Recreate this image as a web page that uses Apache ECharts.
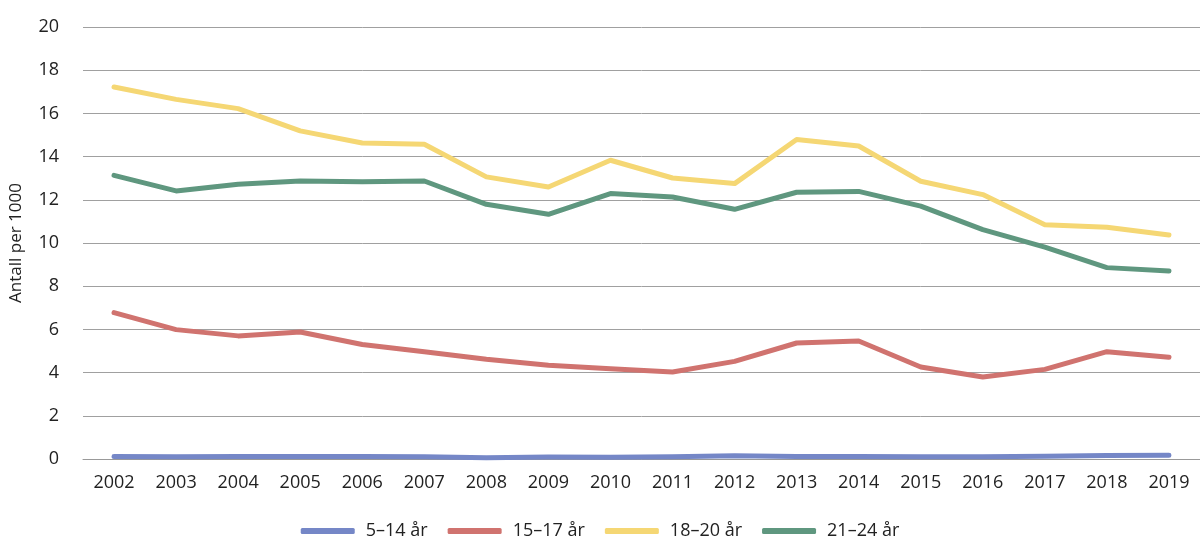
<!DOCTYPE html>
<html>
<head>
<meta charset="utf-8">
<script src="https://cdn.jsdelivr.net/npm/echarts@6/dist/echarts.min.js"></script>
<style>
html,body{margin:0;padding:0;background:#fff;}
#c{width:1200px;height:558px;}
</style>
</head>
<body>
<div id="c"></div>
<script>
const years = ['2002','2003','2004','2005','2006','2007','2008','2009','2010','2011','2012','2013','2014','2015','2016','2017','2018','2019'];
const s5_14  = [0.12,0.10,0.11,0.12,0.11,0.10,0.06,0.09,0.08,0.10,0.15,0.11,0.12,0.10,0.10,0.13,0.16,0.17];
const s15_17 = [6.78,5.99,5.70,5.88,5.30,4.97,4.62,4.34,4.18,4.03,4.52,5.37,5.46,4.26,3.80,4.15,4.97,4.71];
const s18_20 = [17.22,16.65,16.22,15.19,14.63,14.57,13.06,12.59,13.83,13.01,12.75,14.79,14.49,12.86,12.24,10.85,10.73,10.37];
const s21_24 = [13.13,12.41,12.72,12.87,12.84,12.87,11.79,11.33,12.29,12.13,11.56,12.35,12.39,11.71,10.62,9.81,8.86,8.70];
const names = ['5–14 år','15–17 år','18–20 år','21–24 år'];
const colors = ['#7587c7','#d0736f','#f5d774','#5f977f'];
const yTicks = {min:0, max:20, interval:2};

const font = '"Open Sans", "DejaVu Sans", sans-serif';
const chart = echarts.init(document.getElementById('c'));
const mk = (name, data, color) => ({
  name, type:'line', data, symbol:'none', smooth:false,
  lineStyle:{color, width:5, cap:'round', join:'round'},
  itemStyle:{color}
});
chart.setOption({
  animation:false,
  textStyle:{fontFamily:font},
  grid:{left:75, right:0, top:27, bottom:99, containLabel:false},
  legend:{
    bottom:13, left:'center', itemWidth:54, itemHeight:6, itemGap:20,
    icon:'roundRect',
    textStyle:{fontSize:18, color:'#222', fontFamily:font, padding:[0,0,0,6]},
    data:names
  },
  xAxis:{
    type:'category', data:years, boundaryGap:true,
    axisLine:{show:true, lineStyle:{color:'#999', width:1}},
    axisTick:{show:false},
    axisLabel:{fontSize:18, color:'#222', margin:15, fontFamily:font}
  },
  yAxis:{
    type:'value', min:yTicks.min, max:yTicks.max, interval:yTicks.interval,
    name:'Antall per 1000', nameLocation:'middle', nameGap:58, nameRotate:90,
    nameTextStyle:{fontSize:17, color:'#222', fontFamily:font},
    axisLine:{show:false}, axisTick:{show:false},
    axisLabel:{fontSize:18, color:'#222', margin:24, fontFamily:font},
    splitLine:{lineStyle:{color:'#a0a0a0', width:1}}
  },
  series:[
    mk(names[0], s5_14, colors[0]),
    mk(names[1], s15_17, colors[1]),
    mk(names[2], s18_20, colors[2]),
    mk(names[3], s21_24, colors[3])
  ]
});
</script>
</body>
</html>
